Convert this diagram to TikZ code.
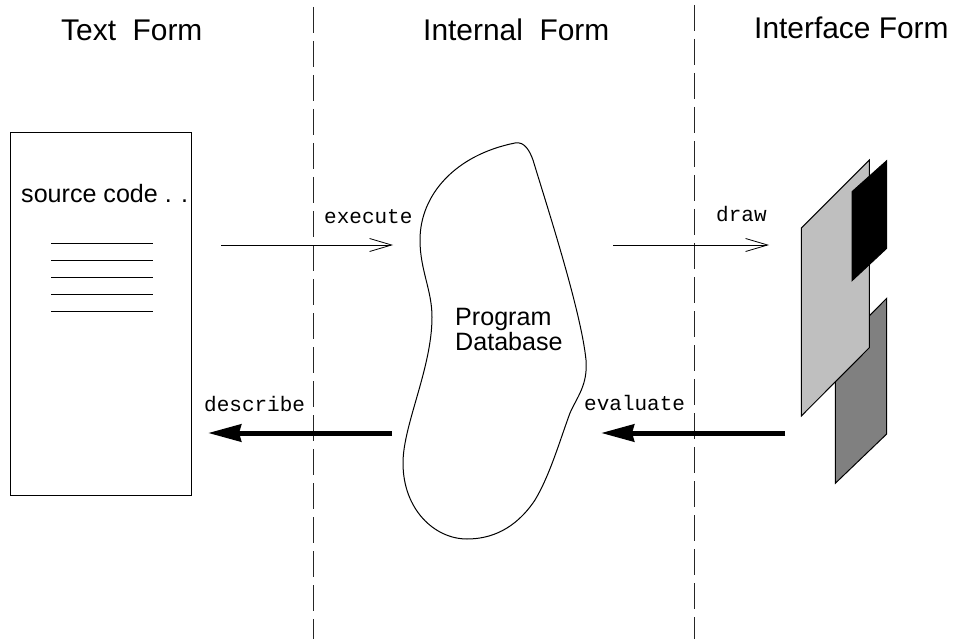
\documentclass[tikz,border=0pt]{standalone}
\usepackage{fontspec}
\setmainfont{Liberation Sans}
\setmonofont{Liberation Mono}
\usetikzlibrary{arrows.meta}
\tikzset{
  x=1pt,y=-1pt,
  ln/.style={line width=1pt,black},
  divider/.style={line width=1pt,black!85,dash pattern=on 26pt off 8pt},
  openarrow/.style={line width=1pt,-{Straight Barb[length=22pt,width=13pt,line width=.8pt]}},
  thickarrow/.style={line width=5pt,-{Stealth[length=33pt,width=17pt,inset=2pt]}},
  heading/.style={anchor=base west,inner sep=0pt,font=\fontsize{29.9}{29.9}\selectfont},
  body/.style={anchor=base west,inner sep=0pt,font=\fontsize{25.1}{25.1}\selectfont},
  verb/.style={anchor=base west,inner sep=0pt,font=\ttfamily\fontsize{21}{21}\selectfont},
  panel/.style={draw=black,line width=1pt,line join=miter}
}
\begin{document}
\begin{tikzpicture}
\useasboundingbox (0,0) rectangle (953,639);
\draw[divider,dash phase=27pt] (313,0) -- (313,639);
\draw[divider,dash phase=29pt] (694.7,0) -- (694.7,639);
\node[heading] (t1) at (61,41) {Text\ \ Form};
\node[heading] (t2) at (423,41) {Internal\ \ Form};
\node[heading] (t3) at (754,39) {Interface Form};
\draw[ln] (10,133) rectangle (191.5,495);
\node[body] (src) at (21,203) {source code . .};
\foreach \yy in {243.5,260.5,277.5,294.5,311.5}
  \draw[ln] (51,\yy) -- (153,\yy);
\draw[ln] (515,143) .. controls (525,141) and (530,152) .. (533,160)
  .. controls (545,200) and (581,310) .. (586,360)
  .. controls (588,385) and (577,397) .. (570,413)
  .. controls (560,440) and (550,475) .. (535,500)
  .. controls (515,530) and (490,539) .. (467,539)
  .. controls (435,539) and (403,510) .. (403,463)
  .. controls (403,425) and (432,368) .. (432,317)
  .. controls (432,290) and (420,270) .. (420,240)
  .. controls (420,195) and (455,155) .. (515,143) -- cycle;
\node[body] (p1) at (455,325) {Program};
\node[body] (p2) at (455,350) {Database};
\coordinate (ea) at (221,245); \coordinate (eb) at (393,245);
\coordinate (da) at (613,245); \coordinate (db) at (769,245);
\coordinate (ra) at (392,433); \coordinate (rb) at (208,433);
\coordinate (va) at (785,433); \coordinate (vb) at (601,433);
\draw[openarrow] (ea) -- (eb);
\draw[openarrow] (da) -- (db);
\draw[thickarrow] (ra) -- (rb);
\draw[thickarrow] (va) -- (vb);
\node[verb] (l1) at (324,223) {execute};
\node[verb] (l2) at (716,222) {draw};
\node[verb] (l3) at (204,411) {describe};
\node[verb] (l4) at (584,410) {evaluate};
\draw[panel,fill=black!50] (835.3,483.3) -- (886.7,434) -- (886.7,298.3) -- (835.3,350) -- cycle;
\draw[panel,fill=black!25] (801.3,228) -- (869.3,160) -- (869.3,347.7) -- (801.3,416) -- cycle;
\draw[panel,fill=black] (852,191.7) -- (886.7,160.7) -- (886.7,248.3) -- (852,280.7) -- cycle;
\end{tikzpicture}
\end{document}
